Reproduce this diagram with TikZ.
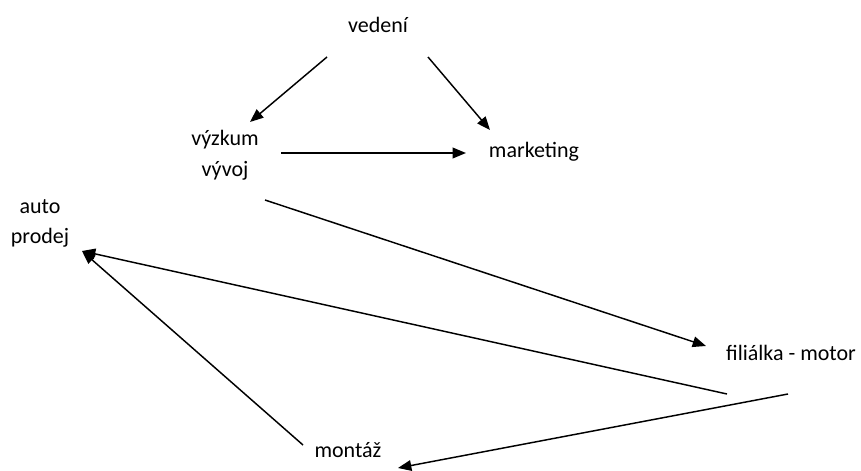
\documentclass[tikz,border=0pt]{standalone}
\usepackage{fontspec}
\setmainfont{Carlito}
\usetikzlibrary{arrows.meta}
\begin{document}
\begin{tikzpicture}[x=0.75pt,y=-0.75pt,
  lbl/.style={inner sep=0pt,anchor=base,font=\fontsize{16.5}{18.75}\selectfont},
  link/.style={line width=1.1pt,-{Triangle[length=10pt,width=8pt]}}]
\useasboundingbox (0,0) rectangle (861,471);
% labels (placed by their first baseline)
\node[lbl] (ved) at (378,32) {vedení};
\node[lbl] (vyz) at (225,145) {\begin{tabular}[t]{@{}c@{}}výzkum\\[4.5pt]vývoj\end{tabular}};
\node[lbl] (mkt) at (534,157) {marketing};
\node[lbl] (aut) at (40,213) {\begin{tabular}[t]{@{}c@{}}auto\\[4pt]prodej\end{tabular}};
\node[lbl] (fil) at (791,360) {filiálka - motor};
\node[lbl] (mon) at (348,457) {montáž};
% free connector ends
\coordinate (vedL) at (327,57);
\coordinate (vedR) at (428,57);
\coordinate (vyzT) at (250,122);
\coordinate (mktT) at (490,130);
\coordinate (vyzR) at (281,153);
\coordinate (mktL) at (466,153);
\coordinate (vyzB) at (265,200);
\coordinate (filT) at (706,346);
\coordinate (filB1) at (727,394);
\coordinate (filB2) at (788,394);
\coordinate (autR) at (82,251);
\coordinate (monL) at (303,445);
\coordinate (monB) at (398,468);
% connectors
\draw[link] (vedL) -- (vyzT);
\draw[link] (vedR) -- (mktT);
\draw[link] (vyzR) -- (mktL);
\draw[link] (vyzB) -- (filT);
\draw[link] (filB1) -- (autR);
\draw[link] (monL) -- (autR);
\draw[link] (filB2) -- (monB);
\end{tikzpicture}
\end{document}
